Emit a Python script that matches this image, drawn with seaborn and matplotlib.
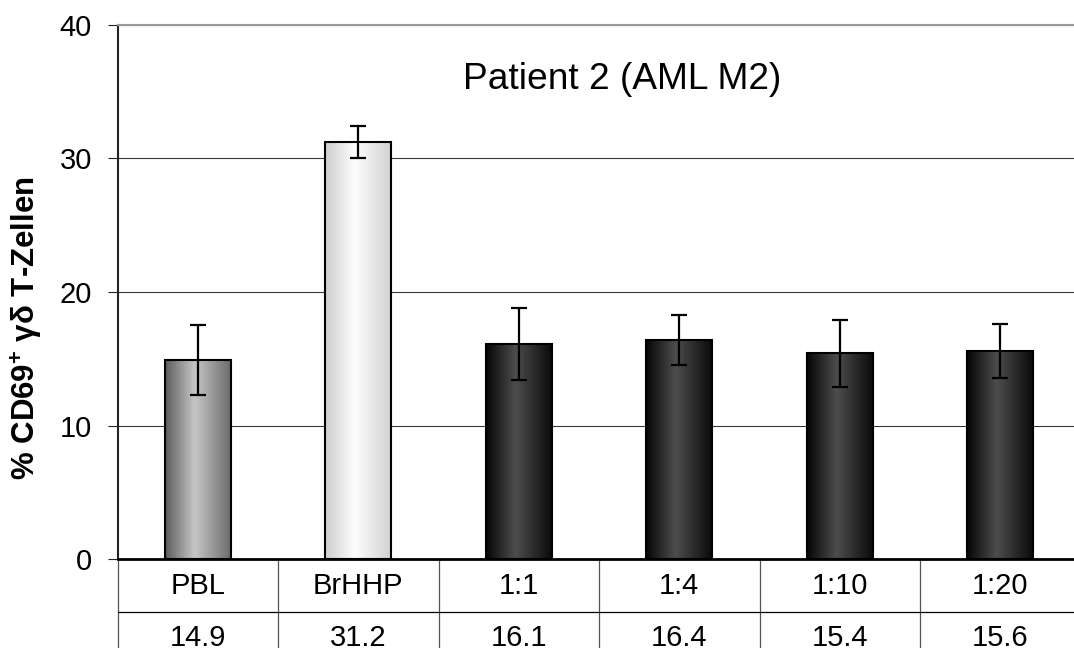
import numpy as np
import pandas as pd
import matplotlib
matplotlib.use("Agg")
import matplotlib.pyplot as plt
import seaborn as sns
from matplotlib.colors import LinearSegmentedColormap

# ---- data ----
categories = ["PBL", "BrHHP", "1:1", "1:4", "1:10", "1:20"]
values = [14.9, 31.2, 16.1, 16.4, 15.4, 15.6]
errors = [2.6, 1.2, 2.7, 1.9, 2.5, 2.0]
yticks = [0, 10, 20, 30, 40]
title = "Patient 2 (AML M2)"
ylabel = "% CD69$^{\\mathbf{+}}$ γδ T-Zellen"

# ---- style ----
gradients = {
    "PBL": ["#5c5c5c", "#c6c6c6", "#6c6c6c"],
    "BrHHP": ["#cdcdcd", "#fdfdfd", "#d2d2d2"],
}
dark_grad = ["#050505", "#4d4d4d", "#0a0a0a"]
mid_colors = ["#999999", "#eeeeee", "#333333", "#333333", "#333333", "#333333"]

sns.set_theme(style="white")
plt.rcParams["font.family"] = ["Liberation Sans", "DejaVu Sans"]
plt.rcParams["mathtext.fontset"] = "custom"
plt.rcParams["mathtext.rm"] = "Liberation Sans"
plt.rcParams["mathtext.bf"] = "Liberation Sans:bold"
for k in ["text.color", "axes.labelcolor", "xtick.labelcolor", "ytick.labelcolor"]:
    plt.rcParams[k] = "black"

W, H = 1074, 648
fig = plt.figure(figsize=(W / 100, H / 100), dpi=100)
ax = fig.add_axes([117.5 / W, (H - 559.3) / H, 963 / W, 534.7 / H])

df = pd.DataFrame({"cat": categories, "val": values})
sns.barplot(data=df, x="cat", y="val", hue="cat", palette=mid_colors,
            width=0.41, edgecolor="black", linewidth=1.5, legend=False,
            errorbar=None, ax=ax)

grad = np.linspace(0, 1, 256).reshape(1, -1)
for p in list(ax.patches):
    x0, y0 = p.get_x(), p.get_y()
    w, h = p.get_width(), p.get_height()
    if h <= 0:
        continue
    idx = int(round(x0 + w / 2))
    cols = gradients.get(categories[idx], dark_grad)
    cmap = LinearSegmentedColormap.from_list("g", [(0, cols[0]), (0.45, cols[1]), (1, cols[2])])
    im = ax.imshow(grad, cmap=cmap, extent=(x0, x0 + w, y0, y0 + h), aspect="auto",
                   zorder=p.get_zorder() - 0.05, interpolation="bicubic")
    im.set_clip_path(p)
    p.set_facecolor("none")

ax.errorbar(range(len(categories)), values, yerr=errors, fmt="none", ecolor="black",
            elinewidth=1.6, capsize=5.5, capthick=1.6, zorder=4)

ax.set_xlim(-0.5, len(categories) - 0.5)
ax.set_ylim(0, 40)
ax.set_yticks(yticks)
ax.set_axisbelow(True)
ax.yaxis.grid(True, color="#3a3a3a", linewidth=0.8)
ax.xaxis.grid(False)
ax.tick_params(axis="y", direction="out", left=True, length=7.5, width=0.8,
               color="#222222", labelsize=21, pad=11, labelcolor="black")
ax.tick_params(axis="x", bottom=False, labelbottom=False)
ax.set_xlabel("")
ax.set_ylabel("")

ax.spines["left"].set_color("#222222")
ax.spines["left"].set_linewidth(1.5)
ax.spines["bottom"].set_color("black")
ax.spines["bottom"].set_linewidth(2)
ax.spines["top"].set_color("#999999")
ax.spines["top"].set_linewidth(1.5)
ax.spines["right"].set_visible(False)

# ---- data table below the axis ----
trans = ax.get_xaxis_transform()
rh = 52.5 / 534.7
for i, cat in enumerate(categories):
    ax.text(i, -rh / 2, cat, ha="center", va="center", fontsize=21, color="black",
            transform=trans, clip_on=False)
    ax.text(i, -rh * 1.5, f"{values[i]:.1f}", ha="center", va="center", fontsize=21,
            color="black", transform=trans, clip_on=False)
for xb in np.arange(-0.5, len(categories), 1.0):
    ax.plot([xb, xb], [0, -2.2 * rh], transform=trans, clip_on=False,
            color="#555555", linewidth=0.9)
ax.plot([-0.5, len(categories) - 0.5], [-rh, -rh], transform=trans, clip_on=False,
        color="black", linewidth=0.9)

fig.text(621.7 / W, (H - 89.3) / H, title, ha="center", va="baseline", fontsize=26.7,
         color="black")
fig.text(27 / W, (H - 328) / H, ylabel, rotation=90, ha="center", va="center",
         fontsize=22.5, fontweight="bold", color="black")

fig.savefig("out.png", dpi=100)
